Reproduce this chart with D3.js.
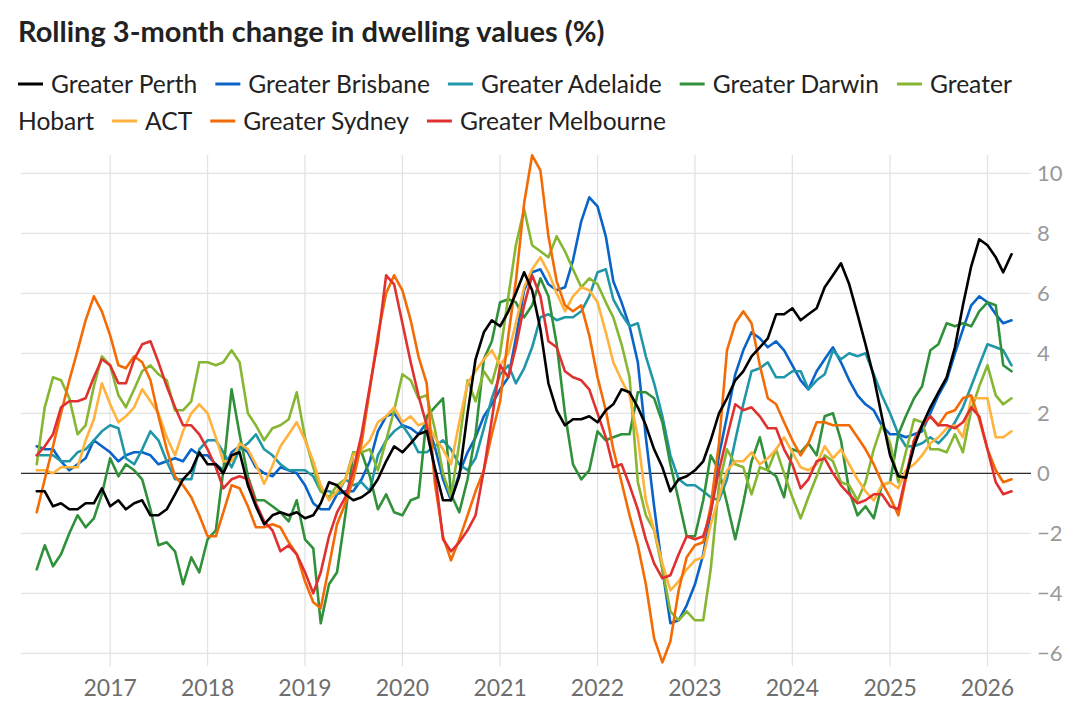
<!DOCTYPE html>
<html>
<head>
<meta charset="utf-8">
<script src="https://cdn.jsdelivr.net/npm/d3@7"></script>
<style>
  body { margin: 0; background: #fff; }
  svg { display: block; font-family: Lato, "Noto Sans", sans-serif; }
</style>
</head>
<body>
<svg id="chart" width="1080" height="720"></svg>
<script>
// monthly observations, April 2016 .. April 2026
var firstMonth = new Date(2016, 3, 1);
var lastMonth = new Date(2026, 3, 1);

var seriesNames = ["Greater Perth", "Greater Brisbane", "Greater Adelaide", "Greater Darwin",
  "Greater Hobart", "ACT", "Greater Sydney", "Greater Melbourne"];
var seriesColors = ["#000000", "#0a64c8", "#1f97a8", "#30913a", "#86b632", "#ffb23c", "#f36b05", "#e03131"];

var perth = [-0.6,-0.6,-1.1,-1.0,-1.2,-1.2,-1.0,-1.0,-0.5,-1.1,-0.9,-1.2,-1.0,-0.9,-1.4,-1.4,-1.2,-0.7,-0.2,0.1,
  0.7,0.3,0.3,0.0,0.6,0.7,-0.4,-1.1,-1.7,-1.4,-1.3,-1.4,-1.3,-1.5,-1.4,-1.0,-0.3,-0.4,-0.7,-0.9,
  -0.8,-0.6,-0.2,0.4,0.9,0.7,1.0,1.3,1.4,0.2,-0.9,-0.9,-0.1,2.0,3.8,4.7,5.1,4.9,5.4,6.0,
  6.7,6.1,4.8,3.0,2.1,1.6,1.8,1.8,1.9,1.7,2.1,2.3,2.8,2.7,2.2,1.6,0.8,0.2,-0.6,-0.2,
  -0.1,0.1,0.4,1.1,2.0,2.5,3.1,3.4,3.9,4.2,4.5,5.3,5.3,5.5,5.1,5.3,5.5,6.2,6.6,7.0,
  6.3,5.3,4.3,3.2,1.9,0.6,-0.1,-0.15,0.9,1.6,2.2,2.7,3.2,4.2,5.6,6.9,7.8,7.6,7.2,6.7,7.3];
var brisbane = [0.9,0.8,0.8,0.4,0.1,0.3,0.5,1.1,0.9,0.7,0.4,0.6,0.7,0.7,0.6,0.3,0.4,0.5,0.4,0.8,
  0.6,0.6,0.3,0.1,0.7,0.9,0.7,0.2,0.0,-0.1,0.2,0.1,0.0,-0.4,-1.0,-1.2,-1.2,-0.7,-0.6,-0.6,
  -0.2,0.4,1.4,1.9,2.0,1.6,1.5,1.3,1.7,0.9,-0.2,-0.9,0.0,0.7,1.2,1.9,2.3,2.8,3.2,4.5,
  6.1,6.7,6.8,6.3,6.1,6.2,7.1,8.4,9.2,8.9,7.9,6.4,5.7,4.9,3.7,1.2,-1.1,-3.2,-5.0,-4.9,
  -4.4,-3.7,-2.7,-1.3,0.6,1.9,3.3,4.1,4.7,4.5,4.2,4.4,4.1,3.6,3.1,2.8,3.4,3.8,4.2,3.7,
  3.1,2.6,2.3,2.1,1.6,1.3,1.3,1.2,1.3,1.4,2.0,2.6,3.1,4.0,4.8,5.6,5.9,5.7,5.3,5.0,5.1];
var adelaide = [0.6,0.6,0.6,0.4,0.4,0.7,0.8,1.1,1.4,1.6,1.5,0.5,0.3,0.8,1.4,1.1,0.4,-0.2,-0.2,-0.2,
  0.8,1.1,1.1,0.7,0.2,0.8,1.0,1.3,0.8,0.6,0.3,0.1,0.1,0.1,-0.1,-0.6,-0.6,-0.7,-0.2,-0.4,
  -0.3,-0.6,0.6,1.1,1.4,1.6,1.2,0.7,0.7,0.9,1.1,0.8,0.3,0.1,0.5,1.5,2.5,3.3,3.6,3.0,
  3.5,4.2,5.2,5.3,5.1,5.2,5.2,5.4,5.9,6.7,6.8,5.8,5.3,4.9,5.0,3.9,3.0,1.9,0.6,-0.2,
  -0.4,-0.4,-0.6,-0.8,-0.9,-0.2,1.1,2.3,3.4,3.5,3.7,3.2,3.2,3.4,3.4,2.8,3.1,3.3,4.1,3.8,
  4.0,3.9,4.0,3.3,2.6,2.0,1.3,0.9,0.9,1.0,1.2,1.0,1.3,1.7,2.2,2.9,3.6,4.3,4.2,4.1,3.6];
var darwin = [-3.2,-2.4,-3.1,-2.7,-2.0,-1.4,-1.8,-1.5,-0.7,0.5,-0.1,0.3,0.1,-0.2,-1.2,-2.4,-2.3,-2.6,-3.7,-2.8,
  -3.3,-2.2,-1.9,0.1,2.8,1.3,-0.1,-0.9,-0.9,-1.1,-1.3,-1.6,-0.9,-2.2,-2.5,-5.0,-3.7,-3.3,-1.4,0.7,
  0.7,-0.1,-1.2,-0.7,-1.3,-1.4,-0.9,-0.8,1.9,2.2,2.5,-0.7,-1.3,-0.2,1.3,3.8,4.4,5.7,5.8,5.7,
  5.2,5.6,6.5,5.9,4.3,2.0,0.3,-0.2,0.1,1.4,1.1,1.2,1.3,1.3,2.7,2.7,2.5,1.7,0.3,-0.9,
  -2.1,-2.1,-0.9,0.6,0.1,-1.0,-2.2,-1.0,0.4,1.2,0.1,-0.1,-0.8,0.8,0.7,1.0,0.6,1.9,2.0,1.1,
  -0.6,-1.4,-1.1,-1.5,-0.4,-0.3,1.3,1.9,2.5,2.9,4.1,4.3,5.0,4.9,5.0,4.9,5.4,5.7,5.6,3.6,3.4];
var hobart = [0.3,2.2,3.2,3.1,2.5,1.3,1.6,2.9,3.9,3.6,2.6,2.2,2.8,3.4,3.6,3.3,3.1,2.1,2.1,2.4,
  3.7,3.7,3.6,3.7,4.1,3.7,2.0,1.6,1.1,1.5,1.6,1.8,2.7,1.2,0.2,-0.6,-0.8,-0.4,-0.2,0.7,
  0.7,0.8,0.1,1.1,2.1,3.3,3.1,2.5,2.6,1.5,0.0,-0.8,1.0,3.1,2.4,3.4,3.0,4.0,5.9,7.6,
  8.8,7.6,7.4,7.2,7.9,7.4,6.8,6.2,6.5,6.3,5.7,5.2,4.3,3.2,-0.3,-1.4,-1.9,-3.2,-4.6,-4.9,
  -4.6,-4.9,-4.9,-3.2,-0.4,0.8,0.3,0.2,-0.7,0.2,0.1,0.8,0.0,-0.8,-1.5,-0.8,-0.1,0.6,0.4,-0.3,
  -0.4,-0.9,-0.3,0.8,1.6,1.0,-0.3,0.7,1.8,1.7,0.8,0.8,0.7,1.3,0.7,2.1,2.9,3.6,2.6,2.3,2.5];
var act = [0.1,0.1,0.0,0.2,0.2,0.2,1.1,1.8,3.0,2.3,1.7,1.9,2.2,2.8,2.4,2.0,1.2,0.6,1.4,2.0,
  2.3,2.0,1.2,0.4,0.4,1.0,0.8,0.3,-0.35,0.25,0.9,1.3,1.7,1.1,0.4,-0.4,-0.9,-0.6,-0.2,0.6,
  0.8,1.1,1.7,1.9,2.2,1.7,1.9,1.6,1.7,1.2,0.8,0.3,1.7,3.0,3.4,3.8,4.1,3.6,4.0,5.0,
  6.2,6.8,7.2,6.7,6.0,5.4,5.9,6.2,6.1,5.7,4.7,3.7,3.1,2.6,1.2,-0.9,-1.9,-3.0,-3.9,-3.6,
  -3.2,-2.9,-2.8,-1.7,-0.8,0.1,0.4,0.4,0.7,0.3,0.5,0.8,1.2,0.7,0.2,0.1,0.3,0.9,0.5,0.8,
  0.3,-0.2,-0.6,-0.9,-0.4,-0.3,-0.5,0.1,0.3,0.6,1.0,1.2,1.5,1.6,1.2,2.5,2.5,2.5,1.2,1.2,1.4];
var sydney = [-1.3,-0.2,0.9,2.0,3.1,4.1,5.1,5.9,5.4,4.6,3.6,3.5,3.9,3.7,3.1,1.9,0.8,-0.1,-0.4,-0.8,
  -1.4,-2.1,-2.1,-1.3,-0.4,-0.5,-1.1,-1.8,-1.8,-1.7,-1.8,-2.3,-2.7,-3.6,-4.3,-4.5,-3.1,-1.7,-1.0,-0.2,
  1.0,2.8,4.6,6.0,6.6,6.1,5.1,3.9,3.0,-0.3,-2.1,-2.9,-2.2,-1.4,-0.6,0.1,1.3,2.4,4.6,6.4,
  9.0,10.6,10.1,7.9,6.4,5.6,5.4,5.6,4.6,3.2,2.1,0.8,-0.3,-1.4,-2.4,-3.7,-5.5,-6.3,-5.6,-3.9,
  -2.8,-2.4,-2.3,-1.1,1.0,4.1,5.0,5.4,5.0,3.6,2.5,2.3,1.7,1.1,0.6,1.0,1.7,1.7,1.6,1.6,
  1.6,1.2,0.8,0.3,-0.3,-0.8,-1.4,-0.2,1.1,1.6,1.9,1.6,2.0,2.1,2.5,2.6,1.8,0.8,0.1,-0.3,-0.2];
var melbourne = [0.6,0.9,1.3,2.2,2.4,2.4,2.5,3.2,3.8,3.6,3.0,3.0,3.8,4.3,4.4,3.7,2.9,2.2,1.6,1.6,
  1.3,0.8,0.2,-0.5,-0.2,-0.1,-0.2,-1.0,-1.6,-1.9,-2.6,-2.4,-2.7,-3.3,-4.0,-3.3,-2.1,-1.3,-0.8,0.1,
  1.3,2.9,4.4,6.6,6.3,5.0,3.7,2.6,1.6,0.1,-2.2,-2.6,-2.3,-1.9,-1.4,0.1,1.8,3.6,3.2,4.2,
  5.6,6.6,5.9,4.4,4.2,3.4,3.2,3.1,2.8,2.0,1.2,0.2,0.3,-0.4,-1.2,-2.2,-3.0,-3.5,-3.4,-2.7,
  -2.1,-2.2,-2.1,-1.3,0.1,1.2,2.3,2.1,2.2,1.9,1.5,1.5,0.8,0.3,-0.5,-0.2,0.4,0.5,0.0,-0.4,
  -0.7,-1.0,-0.9,-0.7,-0.7,-1.1,-1.2,-0.1,1.1,1.6,1.9,1.6,1.6,1.5,1.7,2.2,1.9,0.8,-0.3,-0.7,-0.6];

var seriesValues = [perth, brisbane, adelaide, darwin, hobart, act, sydney, melbourne];
var yTicks = [-6, -4, -2, 0, 2, 4, 6, 8, 10];
var xTickYears = [2017, 2018, 2019, 2020, 2021, 2022, 2023, 2024, 2025, 2026];

var months = d3.timeMonth.range(firstMonth, d3.timeMonth.offset(lastMonth, 1));
var series = seriesNames.map(function (name, k) {
  return { name: name, color: seriesColors[k],
    values: months.map(function (m, i) { return { date: m, value: seriesValues[k][i] }; }) };
});

var svg = d3.select("#chart");
var plot = { left: 21, right: 1031, top: 155, bottom: 666 };

var x = d3.scaleTime()
  .domain([new Date(2016, 1, 2), new Date(2026, 5, 13)])
  .range([plot.left, plot.right]);
var y = d3.scaleLinear()
  .domain([-6, 10])
  .range([653.3, 173.3]);

// title
svg.append("text")
  .attr("x", 18).attr("y", 42)
  .attr("font-size", 29).attr("font-weight", 700)
  .attr("fill", "#222")
  .text("Rolling 3-month change in dwelling values (%)");

// legend, wrapping like inline text
var legend = svg.append("g").attr("class", "legend");
var legendFont = 24.6, rowH = 37, maxX = 1030;
var lx = 18, ly = 93;
function measure(str) {
  var t = legend.append("text").attr("font-size", legendFont).text(str);
  var w = t.node().getComputedTextLength();
  t.remove();
  return w;
}
function label(str, px, py) {
  return legend.append("text").attr("x", px).attr("y", py)
    .attr("font-size", legendFont).attr("fill", "#222").text(str);
}
series.forEach(function (s) {
  var words = s.name.split(" ");
  if (lx + 33 + measure(words[0]) > maxX) { lx = 18; ly += rowH; }
  legend.append("line")
    .attr("x1", lx).attr("x2", lx + 25)
    .attr("y1", ly - 9).attr("y2", ly - 9)
    .attr("stroke", s.color).attr("stroke-width", 3);
  lx += 33;
  var cur = [];
  words.forEach(function (w) {
    var test = cur.concat([w]).join(" ");
    if (cur.length && lx + measure(test) > maxX) {
      label(cur.join(" "), lx, ly);
      lx = 18; ly += rowH;
      cur = [w];
    } else {
      cur.push(w);
    }
  });
  var t = label(cur.join(" "), lx, ly);
  lx += t.node().getComputedTextLength() + 18;
});

// grid
var grid = svg.append("g");
grid.selectAll(".hgrid").data(yTicks).join("line")
  .attr("x1", plot.left).attr("x2", plot.right)
  .attr("y1", function (d) { return y(d); }).attr("y2", function (d) { return y(d); })
  .attr("stroke", "#e3e3e3").attr("stroke-width", 1.3);
grid.selectAll(".vgrid").data(xTickYears).join("line")
  .attr("x1", function (d) { return x(new Date(d, 0, 1)); })
  .attr("x2", function (d) { return x(new Date(d, 0, 1)); })
  .attr("y1", plot.top).attr("y2", plot.bottom)
  .attr("stroke", "#e3e3e3").attr("stroke-width", 1.3);

// axes labels
svg.append("g").selectAll("text").data(yTicks).join("text")
  .attr("x", 1037).attr("y", function (d) { return y(d); }).attr("dy", "0.35em")
  .attr("font-size", 22).attr("fill", "#999")
  .text(function (d) { return d3.format("")(d); });
svg.append("g").selectAll("text").data(xTickYears).join("text")
  .attr("x", function (d) { return x(new Date(d, 0, 1)); }).attr("y", 688).attr("dy", "0.35em")
  .attr("text-anchor", "middle")
  .attr("font-size", 23).attr("fill", "#6e6e6e")
  .text(function (d) { return d; });

// zero line
svg.append("line")
  .attr("x1", plot.left).attr("x2", plot.right)
  .attr("y1", y(0)).attr("y2", y(0))
  .attr("stroke", "#000").attr("stroke-width", 1);

// lines (Perth on top)
var line = d3.line()
  .x(function (d) { return x(d.date); })
  .y(function (d) { return y(d.value); });
var drawOrder = series.slice(1).concat([series[0]]);
svg.append("g").selectAll("path").data(drawOrder).join("path")
  .attr("fill", "none")
  .attr("stroke", function (d) { return d.color; })
  .attr("stroke-width", 2.6)
  .attr("stroke-linejoin", "round")
  .attr("stroke-linecap", "round")
  .attr("d", function (d) { return line(d.values); });
</script>
</body>
</html>
